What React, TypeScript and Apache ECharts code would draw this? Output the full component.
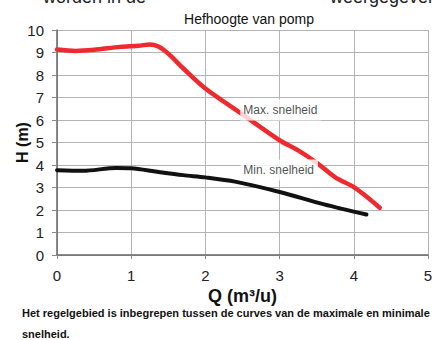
import React, { useEffect, useRef } from "react";
import * as echarts from "echarts";

// Pump head curves: Q (m³/u) against H (m)
const maxSpeedCurve: [number, number][] = [
  [0, 9.13], [0.25, 9.07], [0.5, 9.12], [0.85, 9.25], [1.1, 9.3], [1.25, 9.36],
  [1.36, 9.28], [1.5, 8.95], [1.7, 8.3], [2.0, 7.4], [2.5, 6.25], [3.0, 5.1],
  [3.25, 4.65], [3.5, 4.1], [3.75, 3.45], [4.0, 3.02], [4.17, 2.6], [4.35, 2.1],
];
const minSpeedCurve: [number, number][] = [
  [0, 3.77], [0.35, 3.74], [0.8, 3.87], [1.0, 3.86], [1.35, 3.7], [1.7, 3.55],
  [2.0, 3.45], [2.4, 3.26], [3.0, 2.8], [3.6, 2.25], [4.17, 1.8],
];
const curveLabels = [
  { name: "Max. snelheid", value: [2.47, 6.45] },
  { name: "Min. snelheid", value: [2.47, 3.78] },
];
const xTicks = [0, 1, 2, 3, 4, 5];
const yTicks = [0, 1, 2, 3, 4, 5, 6, 7, 8, 9, 10];

const FONT = "'Liberation Sans', Arial, sans-serif";

export default function App() {
  const ref = useRef<HTMLDivElement>(null);

  useEffect(() => {
    if (!ref.current) return;
    const chart = echarts.init(ref.current, null, { renderer: "svg" });
    chart.setOption({
      animation: false,
      backgroundColor: "#ffffff",
      textStyle: { fontFamily: FONT },
      title: {
        text: "Hefhoogte van pomp",
        left: 244,
        top: 7,
        textAlign: "center",
        textStyle: { fontFamily: FONT, fontSize: 14, fontWeight: "normal", color: "#111" },
      },
      grid: {
        left: 57,
        right: 4,
        top: 30,
        bottom: 85,
        containLabel: false,
        outerBoundsMode: "none",
      },
      xAxis: {
        type: "value",
        min: xTicks[0],
        max: xTicks[xTicks.length - 1],
        interval: 1,
        name: "Q (m³/u)",
        nameLocation: "middle",
        nameGap: 32,
        nameMoveOverlap: false,
        nameTextStyle: { fontFamily: FONT, fontSize: 18, fontWeight: "bold", color: "#111" },
        axisLine: { show: true, lineStyle: { color: "#666", width: 1.5 } },
        axisTick: { show: true, length: 4, lineStyle: { color: "#888" } },
        axisLabel: { fontFamily: FONT, fontSize: 15, color: "#222", margin: 13 },
        splitLine: { show: true, lineStyle: { color: "#b4b4b4", width: 1 } },
      },
      yAxis: {
        type: "value",
        min: yTicks[0],
        max: yTicks[yTicks.length - 1],
        interval: 1,
        name: "H (m)",
        nameLocation: "middle",
        nameGap: 27,
        nameRotate: 90,
        nameMoveOverlap: false,
        nameTextStyle: { fontFamily: FONT, fontSize: 16, fontWeight: "bold", color: "#111" },
        axisLine: { show: true, lineStyle: { color: "#666", width: 1.5 } },
        axisTick: { show: true, length: 5, lineStyle: { color: "#888" } },
        axisLabel: { fontFamily: FONT, fontSize: 15, color: "#222", margin: 13 },
        splitLine: { show: true, lineStyle: { color: "#b4b4b4", width: 1 } },
      },
      series: [
        {
          name: "Max. snelheid",
          type: "line",
          data: maxSpeedCurve,
          smooth: 0.3,
          symbol: "none",
          lineStyle: { color: "#ee2a2e", width: 4.5, cap: "round", join: "round" },
          z: 3,
        },
        {
          name: "Min. snelheid",
          type: "line",
          data: minSpeedCurve,
          smooth: 0.3,
          symbol: "none",
          lineStyle: { color: "#111111", width: 4, cap: "round", join: "round" },
          z: 3,
        },
        {
          type: "scatter",
          data: curveLabels,
          symbolSize: 0,
          z: 10,
          label: {
            show: true,
            position: "right",
            distance: 0,
            formatter: (p: any) => p.name,
            fontFamily: FONT,
            fontSize: 12,
            color: "#222",
            backgroundColor: "#ffffff",
            padding: [5, 4, 4, 3],
          },
        },
      ],
      graphic: [
        {
          type: "text",
          left: 43,
          top: -12,
          style: { text: "worden in de", font: `18px ${FONT}`, fill: "#222" },
        },
        {
          type: "text",
          left: 330,
          top: -12,
          style: { text: "weergegeven", font: `18px ${FONT}`, fill: "#222" },
        },
        {
          type: "text",
          left: 22,
          top: 307,
          style: {
            text: "Het regelgebied is inbegrepen tussen de curves van de maximale en minimale",
            font: `bold 11px ${FONT}`,
            fill: "#111",
          },
        },
        {
          type: "text",
          left: 22,
          top: 328,
          style: { text: "snelheid.", font: `bold 11px ${FONT}`, fill: "#111" },
        },
      ],
    });
    return () => chart.dispose();
  }, []);

  return (
    <div
      ref={ref}
      style={{ position: "fixed", left: 0, top: 0, width: 432, height: 340 }}
    />
  );
}
